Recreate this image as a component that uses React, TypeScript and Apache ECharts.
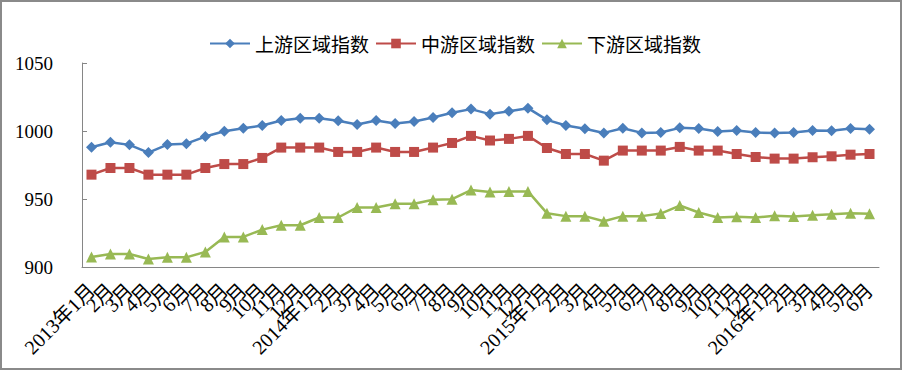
import React, { useEffect, useRef } from "react";
import * as echarts from "echarts";

const categories: string[] = [
  "2013年1月", "2月", "3月", "4月", "5月", "6月", "7月", "8月", "9月", "10月", "11月", "12月",
  "2014年1月", "2月", "3月", "4月", "5月", "6月", "7月", "8月", "9月", "10月", "11月", "12月",
  "2015年1月", "2月", "3月", "4月", "5月", "6月", "7月", "8月", "9月", "10月", "11月", "12月",
  "2016年1月", "2月", "3月", "4月", "5月", "6月",
];

const upstream: number[] = [
  988.0, 991.7, 989.8, 984.1, 990.0, 990.7, 995.9, 999.8, 1002.0, 1004.0, 1007.7, 1009.4,
  1009.4, 1007.5, 1004.8, 1007.7, 1005.5, 1007.0, 1009.9, 1013.4, 1016.1, 1012.4, 1014.6, 1016.8,
  1008.2, 1004.0, 1001.6, 998.6, 1002.0, 998.6, 998.9, 1002.3, 1001.8, 999.6, 1000.3, 998.9,
  998.6, 998.9, 1000.3, 1000.1, 1001.8, 1001.3,
];

const midstream: number[] = [
  967.9, 972.8, 972.8, 967.9, 967.9, 967.9, 972.8, 975.7, 975.7, 980.2, 987.8, 987.8,
  987.8, 984.6, 984.6, 987.8, 984.6, 984.6, 987.8, 991.2, 996.4, 993.0, 994.2, 996.4,
  987.5, 983.1, 983.1, 978.2, 985.6, 985.6, 985.6, 988.3, 985.6, 985.6, 983.1, 980.9,
  979.7, 979.7, 980.7, 981.4, 982.6, 983.1,
];

const downstream: number[] = [
  907.4, 909.6, 909.6, 905.9, 907.1, 907.1, 911.1, 922.1, 922.1, 927.5, 930.7, 930.7,
  936.4, 936.4, 943.8, 943.8, 946.5, 946.5, 949.4, 949.9, 956.6, 955.1, 955.6, 955.6,
  939.6, 937.4, 937.4, 933.7, 937.4, 937.4, 939.3, 945.2, 940.1, 936.4, 936.9, 936.4,
  937.6, 937.1, 938.1, 938.8, 939.6, 939.1,
];

const seriesNames: string[] = ["上游区域指数", "中游区域指数", "下游区域指数"];
const yTicks = { min: 900, max: 1050, interval: 50 };

const serifFont = "'Liberation Serif', 'Times New Roman', 'Noto Sans CJK SC', serif";
const cjkFont = "'Noto Sans CJK SC', sans-serif";

export default function App() {
  const ref = useRef<HTMLDivElement>(null);
  useEffect(() => {
    if (!ref.current) return;
    const chart = echarts.init(ref.current, undefined, { renderer: "svg" });
    const mk = (name: string, data: number[], color: string, symbol: string, size: number) => ({
      name,
      type: "line",
      data,
      symbol,
      symbolSize: size,
      showSymbol: true,
      itemStyle: { color },
      lineStyle: { color, width: 2.5 },
    });
    chart.setOption({
      animation: false,
      backgroundColor: "#ffffff",
      graphic: [
        {
          type: "rect",
          shape: { x: 1, y: 1, width: 900, height: 368 },
          style: { fill: "none", stroke: "#8a8a8a", lineWidth: 2 },
          silent: true,
        },
      ],
      legend: {
        left: 204,
        top: 29,
        itemWidth: 40,
        itemHeight: 12,
        itemGap: 6,
        textStyle: { fontFamily: cjkFont, fontSize: 19, color: "#000" },
        data: seriesNames,
      },
      grid: {
        left: 82,
        right: 23,
        top: 63,
        bottom: 103,
        containLabel: false,
        outerBoundsMode: "none",
      },
      xAxis: {
        type: "category",
        data: categories,
        boundaryGap: true,
        axisLine: { lineStyle: { color: "#868686", width: 1 } },
        axisTick: { inside: true, length: 5, lineStyle: { color: "#868686" } },
        axisLabel: {
          interval: 0,
          rotate: 45,
          fontFamily: serifFont,
          fontSize: 20,
          color: "#000",
          margin: 20,
        },
        splitLine: { show: false },
      },
      yAxis: {
        type: "value",
        min: yTicks.min,
        max: yTicks.max,
        interval: yTicks.interval,
        axisLine: { show: true, lineStyle: { color: "#868686", width: 1 } },
        axisTick: { show: true, inside: true, length: 5, lineStyle: { color: "#868686" } },
        axisLabel: {
          fontFamily: serifFont,
          fontSize: 19,
          color: "#000",
          margin: 29,
          formatter: (v: number) => String(v),
        },
        splitLine: { show: false },
      },
      series: [
        mk(seriesNames[0], upstream, "#4A7EBB", "diamond", 11),
        mk(seriesNames[1], midstream, "#BE4B48", "rect", 10),
        mk(seriesNames[2], downstream, "#98B954", "triangle", 11),
      ],
    });
    return () => chart.dispose();
  }, []);
  return (
    <div
      ref={ref}
      style={{ position: "absolute", left: 0, top: 0, width: 902, height: 370 }}
    />
  );
}
